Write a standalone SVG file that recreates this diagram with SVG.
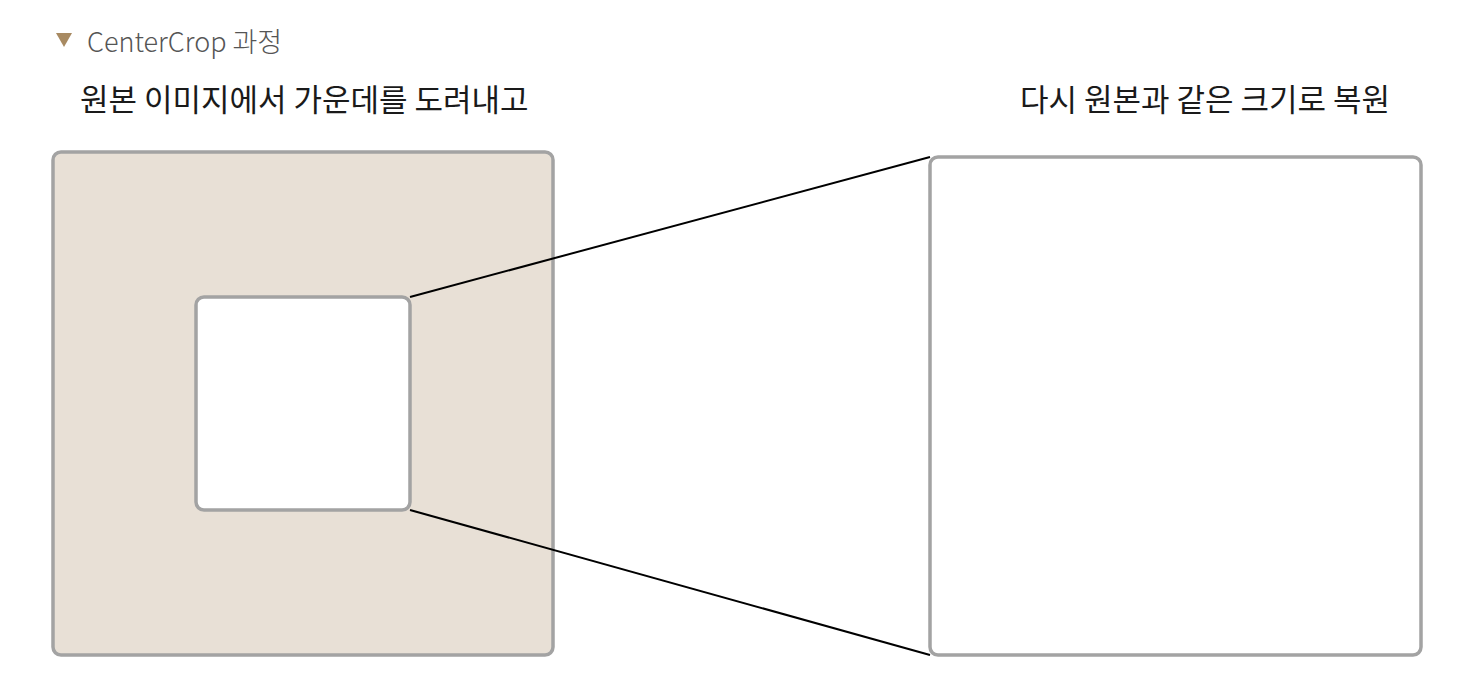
<svg xmlns="http://www.w3.org/2000/svg" width="1474" height="686" viewBox="0 0 1474 686">
<style>
.box{stroke:#a3a3a3;stroke-width:3.5}
.conn{stroke:#000;stroke-width:2;fill:none}
.lbl{font-family:"Noto Sans CJK KR","Noto Sans",sans-serif;font-size:31px;fill:#1a1a1a}
.ttl{font-family:"Noto Sans CJK KR","Noto Sans",sans-serif;font-size:27px;font-weight:300;fill:#555}
</style>
<rect width="1474" height="686" fill="#fff"/>
<g id="title">
<polygon points="56,33 72,33 64,47" fill="#a88a62"/>
<text class="ttl" x="87" y="52">CenterCrop 과정</text>
</g>
<text class="lbl" x="80" y="111">원본 이미지에서 가운데를 도려내고</text>
<text class="lbl" x="1390" y="111" text-anchor="end">다시 원본과 같은 크기로 복원</text>
<g id="original">
<rect class="box" x="53" y="152" width="500" height="503" rx="8" fill="#e8e0d6"/>
</g>
<g id="crop">
<rect class="box" x="196" y="297" width="214" height="213" rx="8" fill="#fff"/>
</g>
<g id="restored">
<rect class="box" x="930" y="157" width="491" height="498" rx="8" fill="#fff"/>
</g>
<g id="connectors">
<line class="conn" x1="410" y1="297" x2="930" y2="157"/>
<line class="conn" x1="410" y1="510" x2="930" y2="655"/>
</g>
</svg>
